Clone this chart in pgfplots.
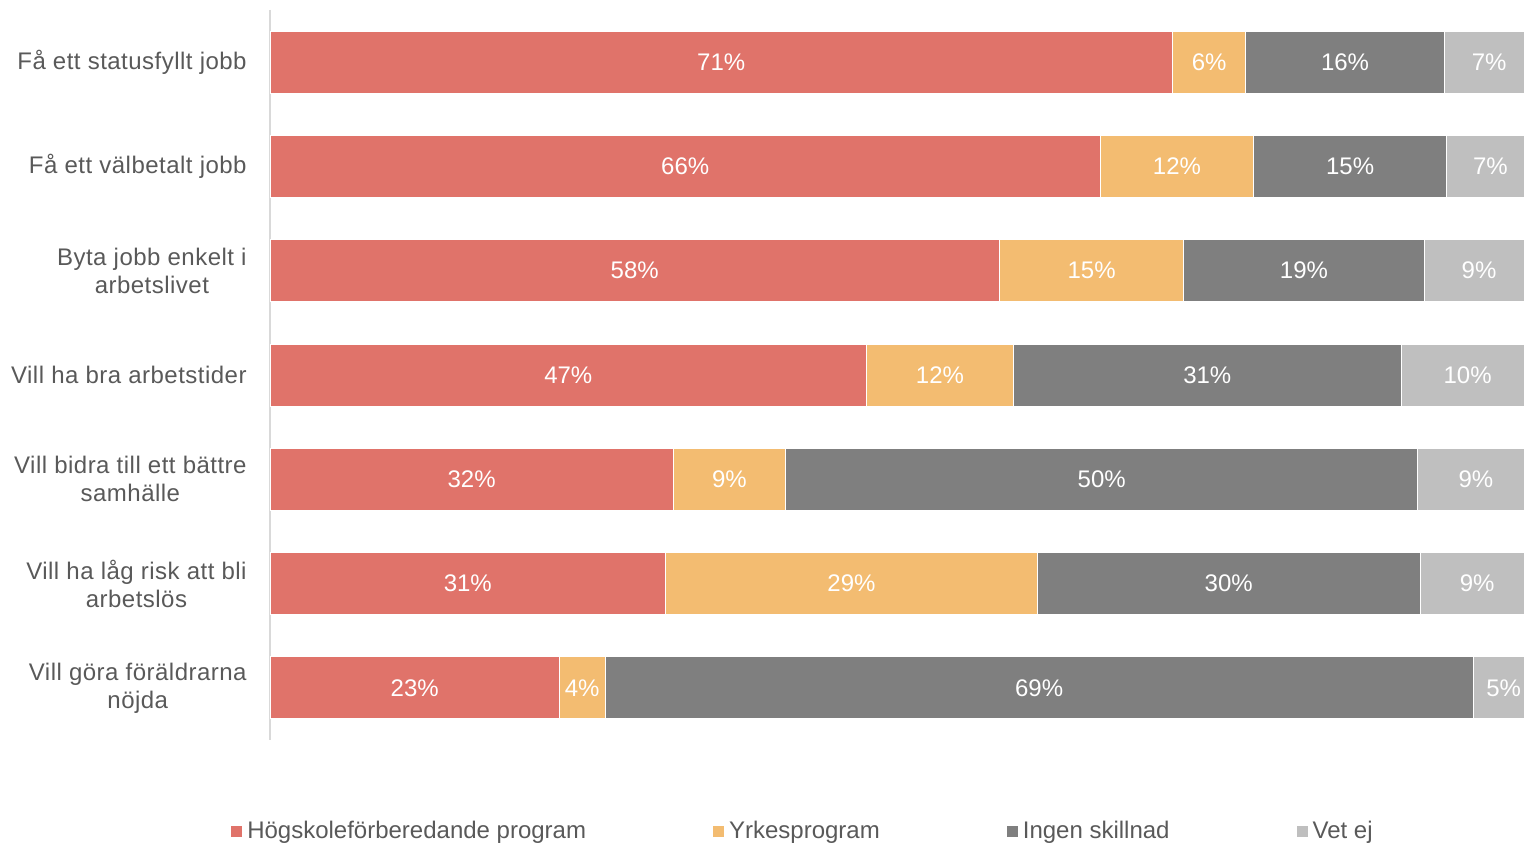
\documentclass[border=0pt]{standalone}
\usepackage{pgfplots}
\pgfplotsset{compat=1.18}
\usepackage{pgfplotstable}
\usepackage{fontspec}
\setmainfont{Liberation Sans}
\newfontfamily\catfont[LetterSpace=2]{Liberation Sans}
\definecolor{cred}{HTML}{E0736A}
\definecolor{cyel}{HTML}{F3BC71}
\definecolor{cdark}{HTML}{7F7F7F}
\definecolor{clight}{HTML}{BFBFBF}
\definecolor{ctext}{HTML}{595959}
\definecolor{caxis}{HTML}{D9D9D9}
\pgfplotstableread{
row a b c d la lb lc ld
0 71.4 5.8 15.7 7.1 71 6 16 7
1 65.7 12.1 15.3 6.9 66 12 15 7
2 57.7 14.6 19.0 8.7 58 15 19 9
3 47.2 11.6 30.7 10.5 47 12 31 10
4 31.9 8.9 50.0 9.2 32 9 50 9
5 31.3 29.4 30.3 9.0 31 29 30 9
6 22.9 3.6 68.7 4.8 23 4 69 5
}\data
\pgfplotsset{
 sqleg/.style={legend image code/.code={\fill[##1] (0pt,-3pt) rectangle (6pt,3pt);}},
 common/.style={scale only axis, width=632pt, height=365pt, at={(135pt,52pt)}, anchor=south west,
   xmin=0, xmax=100, ymin=-0.5, ymax=6.5, y dir=reverse},
 lbl/.style={only marks, mark=*, mark size=0pt, draw=none, fill=none,
   scatter/use mapped color={draw opacity=0, fill opacity=0},
   mark options={draw opacity=0, fill opacity=0},
   point meta=explicit symbolic,
   nodes near coords={\pgfplotspointmeta\%},
   every node near coord/.append style={anchor=center, text=white, text opacity=1, font=\fontsize{12}{14}\selectfont}}
}
\begin{document}
\begin{tikzpicture}
\useasboundingbox (0,0) rectangle (762pt,422pt);
\begin{axis}[common,
  xbar stacked, bar width=31pt,
  axis x line=none, axis y line*=left,
  axis line style={draw=caxis, line width=0.8pt, -},
  ytick={0,...,6},
  yticklabels={{Få ett statusfyllt jobb},{Få ett välbetalt jobb},{Byta jobb enkelt i\\arbetslivet},{Vill ha bra arbetstider},{Vill bidra till ett bättre\\samhälle},{Vill ha låg risk att bli\\arbetslös},{Vill göra föräldrarna\\nöjda}},
  major tick length=0pt,
  yticklabel style={align=center, font=\catfont\fontsize{12}{14}\selectfont, text=ctext, inner sep=0pt, xshift=-11.5pt},
  legend columns=4,
  legend style={at={(axis description cs:-0.0316,-0.1247)}, anchor=west, draw=none, fill=none,
    inner sep=0pt, font=\fontsize{12}{14}\selectfont, text=ctext,
    /tikz/every even column/.append style={column sep=61.1pt}},
]
\addplot[fill=cred, draw=white, line width=0.4pt, sqleg] table[x=a,y=row]{\data};
\addlegendentry{Högskoleförberedande program}
\addplot[fill=cyel, draw=white, line width=0.4pt, sqleg] table[x=b,y=row]{\data};
\addlegendentry{Yrkesprogram}
\addplot[fill=cdark, draw=white, line width=0.4pt, sqleg] table[x=c,y=row]{\data};
\addlegendentry{Ingen skillnad}
\addplot[fill=clight, draw=white, line width=0.4pt, sqleg] table[x=d,y=row]{\data};
\addlegendentry{Vet ej}
\end{axis}
\begin{axis}[common, hide axis]
\addplot[lbl] table[x expr=\thisrow{a}/2, y=row, meta=la]{\data};
\addplot[lbl] table[x expr=\thisrow{a}+\thisrow{b}/2, y=row, meta=lb]{\data};
\addplot[lbl] table[x expr=\thisrow{a}+\thisrow{b}+\thisrow{c}/2, y=row, meta=lc]{\data};
\addplot[lbl] table[x expr=\thisrow{a}+\thisrow{b}+\thisrow{c}+\thisrow{d}/2, y=row, meta=ld]{\data};
\end{axis}
\end{tikzpicture}
\end{document}
